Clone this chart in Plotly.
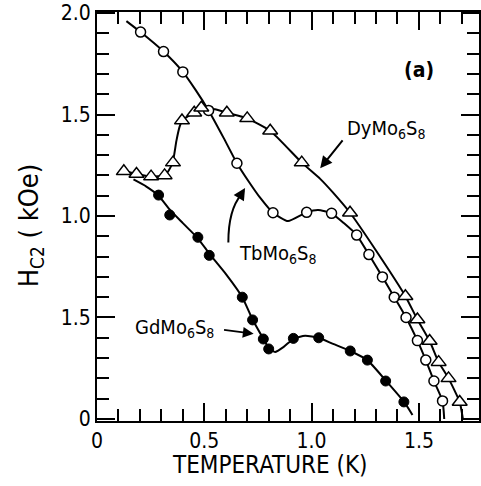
import plotly.graph_objects as go

# --- data (T in K, Hc2 in kOe) ---
tb_T = [0.203, 0.31, 0.40, 0.52, 0.652, 0.82, 0.977, 1.093, 1.21, 1.267, 1.33, 1.385, 1.44, 1.493, 1.532, 1.57, 1.61]
tb_H = [1.906, 1.81, 1.71, 1.52, 1.26, 1.016, 1.018, 1.013, 0.906, 0.81, 0.70, 0.60, 0.50, 0.386, 0.29, 0.187, 0.089]

dy_T = [0.125, 0.184, 0.252, 0.315, 0.354, 0.396, 0.453, 0.486, 0.605, 0.70, 0.807, 0.954, 1.179, 1.437, 1.493, 1.55, 1.592, 1.638, 1.69]
dy_H = [1.22, 1.207, 1.194, 1.20, 1.263, 1.47, 1.509, 1.533, 1.509, 1.481, 1.42, 1.263, 1.016, 0.605, 0.49, 0.384, 0.28, 0.20, 0.084]

gd_T = [0.287, 0.339, 0.47, 0.523, 0.677, 0.725, 0.775, 0.80, 0.915, 1.033, 1.18, 1.26, 1.345, 1.43]
gd_H = [1.103, 1.005, 0.895, 0.806, 0.60, 0.488, 0.394, 0.345, 0.397, 0.40, 0.335, 0.29, 0.187, 0.084]

# hand-drawn guide curves
tb_curve_T = [0.137, 0.203, 0.31, 0.40, 0.46, 0.52, 0.59, 0.652, 0.71, 0.76, 0.82, 0.89, 0.977, 1.03, 1.093, 1.15, 1.21, 1.267, 1.33, 1.385, 1.44, 1.493, 1.532, 1.57, 1.61, 1.618]
tb_curve_H = [1.96, 1.906, 1.81, 1.71, 1.62, 1.52, 1.385, 1.26, 1.165, 1.09, 1.016, 0.975, 1.018, 1.03, 1.013, 0.965, 0.906, 0.81, 0.70, 0.60, 0.50, 0.386, 0.29, 0.187, 0.089, 0.0]

dy_curve_T = [0.095, 0.125, 0.184, 0.252, 0.315, 0.335, 0.354, 0.37, 0.385, 0.40, 0.453, 0.486, 0.55, 0.605, 0.70, 0.807, 0.954, 1.04, 1.10, 1.179, 1.30, 1.437, 1.493, 1.55, 1.592, 1.638, 1.69, 1.705]
dy_curve_H = [1.21, 1.22, 1.207, 1.194, 1.20, 1.225, 1.27, 1.37, 1.44, 1.475, 1.509, 1.528, 1.526, 1.509, 1.481, 1.42, 1.263, 1.183, 1.115, 1.016, 0.83, 0.605, 0.49, 0.384, 0.28, 0.20, 0.084, 0.0]

gd_curve_T = [0.17, 0.23, 0.287, 0.34, 0.40, 0.47, 0.523, 0.60, 0.677, 0.725, 0.775, 0.80, 0.83, 0.87, 0.915, 0.97, 1.033, 1.10, 1.18, 1.26, 1.345, 1.43, 1.47]
gd_curve_H = [1.18, 1.145, 1.10, 1.03, 0.965, 0.89, 0.815, 0.715, 0.60, 0.49, 0.395, 0.35, 0.33, 0.355, 0.395, 0.41, 0.40, 0.37, 0.335, 0.29, 0.19, 0.085, 0.02]

x_ticks = [0, 0.5, 1.0, 1.5]
x_ticktext = ["0", "0.5", "1.0", "1.5"]
y_ticks = [0, 0.5, 1.0, 1.5, 2.0]
y_ticktext = ["0", "1.5", "1.0", "1.5", "2.0"]

FONT = "Liberation Sans Narrow, DejaVu Sans Condensed, Liberation Sans, sans-serif"

fig = go.Figure()
for cT, cH in [(tb_curve_T, tb_curve_H), (dy_curve_T, dy_curve_H), (gd_curve_T, gd_curve_H)]:
    fig.add_trace(go.Scatter(x=cT, y=cH, mode="lines", line=dict(color="black", width=2, shape="spline", smoothing=0.5),
                             hoverinfo="skip", showlegend=False))

fig.add_trace(go.Scatter(x=tb_T, y=tb_H, mode="markers", name="TbMo6S8",
                         marker=dict(symbol="circle", size=10, color="white", line=dict(color="black", width=1.5))))
fig.add_trace(go.Scatter(x=dy_T, y=dy_H, mode="markers", name="DyMo6S8",
                         marker=dict(symbol="triangle-up", size=13, color="white", line=dict(color="black", width=1.5))))
fig.add_trace(go.Scatter(x=gd_T, y=gd_H, mode="markers", name="GdMo6S8",
                         marker=dict(symbol="circle", size=10, color="black", line=dict(color="black", width=1))))

# curved arrow for TbMo6S8 label
fig.add_shape(type="path", xref="x", yref="y",
              path="M 0.612,0.87 Q 0.612,1.03 0.672,1.105", line=dict(color="black", width=2))

ann_font = dict(family=FONT, size=20, color="black")
fig.add_annotation(x=0.69, y=1.138, ax=0.668, ay=1.10, xref="x", yref="y", axref="x", ayref="y",
                   text="", showarrow=True, arrowhead=2, arrowsize=1.2, arrowwidth=2, arrowcolor="black")
fig.add_annotation(x=0.84, y=0.815, xref="x", yref="y", text="TbMo<sub>6</sub>S<sub>8</sub>",
                   showarrow=False, font=ann_font)
fig.add_annotation(x=1.04, y=1.235, ax=1.15, ay=1.38, xref="x", yref="y", axref="x", ayref="y",
                   text="", showarrow=True, arrowhead=2, arrowsize=1.2, arrowwidth=2, arrowcolor="black")
fig.add_annotation(x=1.35, y=1.43, xref="x", yref="y", text="DyMo<sub>6</sub>S<sub>8</sub>",
                   showarrow=False, font=ann_font)
fig.add_annotation(x=0.73, y=0.42, ax=0.585, ay=0.44, xref="x", yref="y", axref="x", ayref="y",
                   text="", showarrow=True, arrowhead=2, arrowsize=1.2, arrowwidth=1.8, arrowcolor="black")
fig.add_annotation(x=0.36, y=0.45, xref="x", yref="y", text="GdMo<sub>6</sub>S<sub>8</sub>",
                   showarrow=False, font=ann_font)
fig.add_annotation(x=1.5, y=1.72, xref="x", yref="y", text="<b>(a)</b>",
                   showarrow=False, font=dict(family=FONT, size=21, color="black"))

# axis titles as annotations (fixed positions)
fig.add_annotation(x=0.453, y=-0.108, xref="paper", yref="paper", xanchor="center", yanchor="middle",
                   text="TEMPERATURE (K)", showarrow=False, font=dict(family=FONT, size=24, color="black"))
fig.add_annotation(x=-0.175, y=0.479, xref="paper", yref="paper", xanchor="center", yanchor="middle",
                   text="H<sub>C2</sub> ( kOe)", textangle=-90, showarrow=False,
                   font=dict(family=FONT, size=27, color="black"))

axis_common = dict(showline=True, linecolor="black", linewidth=2, mirror="ticks", ticks="inside",
                   ticklen=18, tickwidth=2, tickcolor="black", showgrid=False, zeroline=False,
                   automargin=False,
                   tickfont=dict(family=FONT, size=21, color="black"),
                   minor=dict(ticks="inside", ticklen=12, tickwidth=2, tickcolor="black", dtick=0.1, showgrid=False))

fig.update_xaxes(range=[0, 1.78], tickvals=x_ticks, ticktext=x_ticktext, ticklabelstandoff=0, **axis_common)
fig.update_yaxes(range=[-0.01, 2.005], tickvals=y_ticks, ticktext=y_ticktext, **axis_common)

fig.update_layout(width=481, height=486, margin=dict(l=97, r=2, t=12, b=65),
                  paper_bgcolor="white", plot_bgcolor="white", showlegend=False)

fig.write_html("out.html", config={"displayModeBar": False},
               post_script="document.body.style.margin='0';document.body.style.overflow='hidden';")
